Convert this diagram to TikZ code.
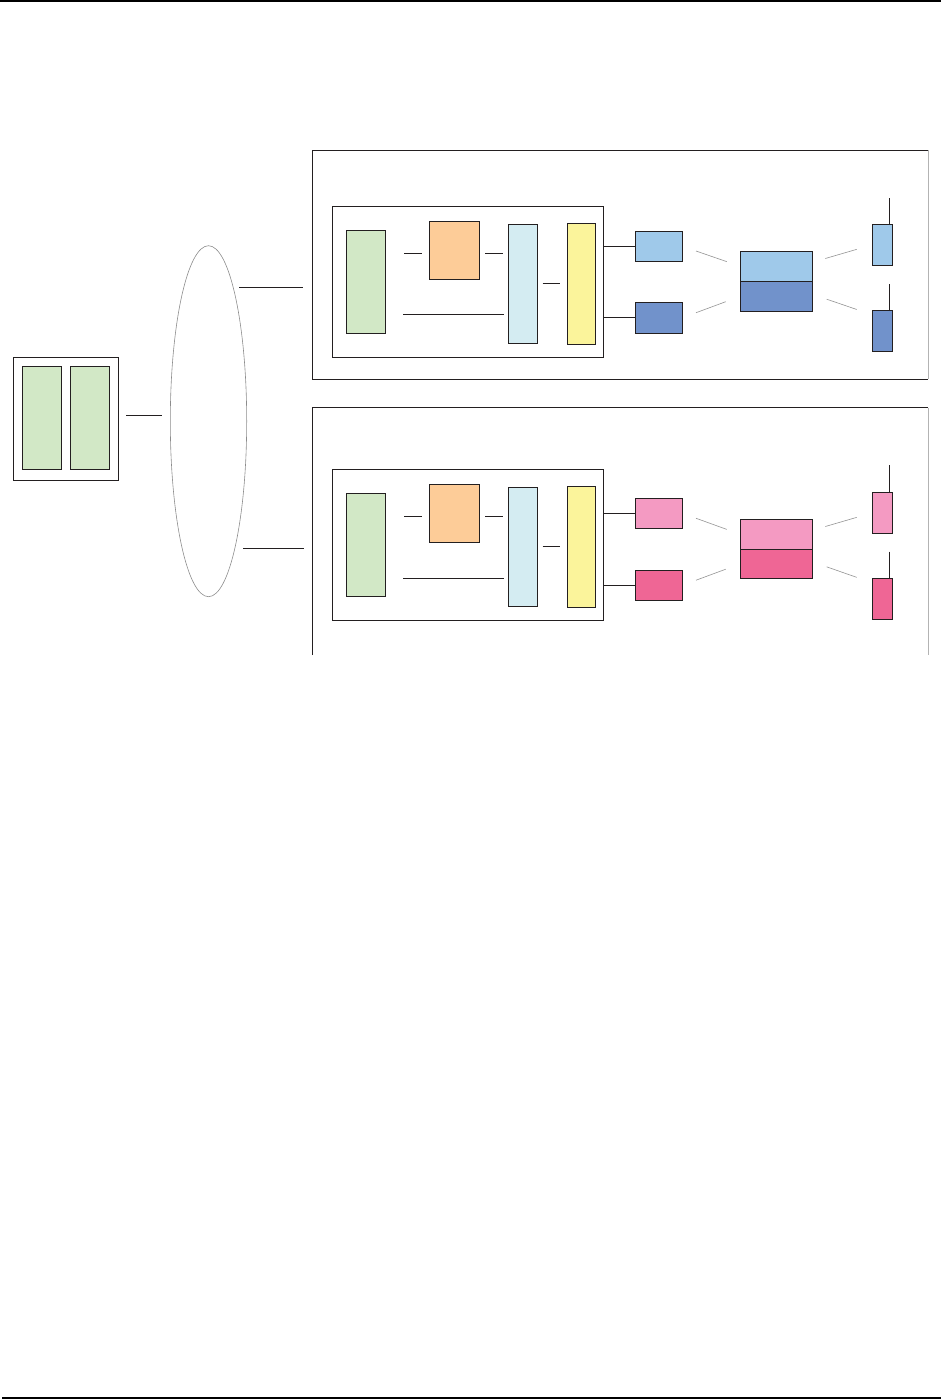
\documentclass[tikz,border=0pt]{standalone}
\usetikzlibrary{shapes.geometric,calc}
\definecolor{ink}{HTML}{231F20}
\definecolor{cgreen}{HTML}{D2E8C6}
\definecolor{corange}{HTML}{FDCC98}
\definecolor{ccyan}{HTML}{D4ECF2}
\definecolor{cyellow}{HTML}{FBF49B}
\definecolor{cblueL}{HTML}{9FC9EA}
\definecolor{cblueD}{HTML}{7192CB}
\definecolor{cpinkL}{HTML}{F49AC2}
\definecolor{cpinkD}{HTML}{EF6695}
\definecolor{cgray}{HTML}{B3B3B3}
\tikzset{
  blk/.style={draw=ink, line width=0.8pt, inner sep=0pt, outer sep=0pt, anchor=north west},
  wire/.style={draw=ink, line width=0.8pt},
  link/.style={draw=gray!85, line width=0.6pt},
  pageline/.style={draw=black, line width=2pt}
}
\begin{document}
\begin{tikzpicture}[x=1pt,y=-1pt]
\useasboundingbox (0,0) rectangle (945,1399);
% page rules
\coordinate (tl) at (0,1);
\coordinate (tr) at (941,1);
\coordinate (bl) at (2,1397.6);
\coordinate (br) at (941,1397.6);
\draw[pageline] (tl) -- (tr);
\draw[pageline] (bl) -- (br);

% left box with two green blocks
\node[blk, minimum width=105pt, minimum height=123pt] (lbx) at (13.3,357.3) {};
\node[blk, fill=cgreen, minimum width=39.4pt, minimum height=103pt] (lg1) at (22.3,366.3) {};
\node[blk, fill=cgreen, minimum width=39.4pt, minimum height=103pt] (lg2) at (70.3,366.3) {};

% ellipse
\node[draw=gray!90, line width=0.6pt, ellipse, inner sep=0pt, minimum width=76.4pt, minimum height=351pt] (ring) at (208.5,421.2) {};
\draw[wire, shorten <=7.7pt, shorten >=7.6pt] (lbx.east |- 0,415.3) -- (ring.west |- 0,415.3);

% ===== top group =====
\draw[ink, line width=0.8pt] (928.3,150.3) -- (312.3,150.3) -- (312.3,379.3) -- (928.3,379.3);
\draw[cgray, line width=0.8pt] (928.3,150.3) -- (928.3,379.3);
\node[minimum width=616pt, minimum height=229pt, inner sep=0pt, anchor=north west] (ob1) at (312.3,150.3) {};
\node[blk, minimum width=271.4pt, minimum height=151pt] (ib1) at (332.3,206.3) {};
\node[blk, fill=cgreen, minimum width=39.4pt, minimum height=103pt] (g1) at (346.3,230.3) {};
\node[blk, fill=corange, minimum width=50.4pt, minimum height=58pt] (o1) at (429.3,221.3) {};
\node[blk, fill=ccyan, minimum width=29.4pt, minimum height=119pt] (c1) at (508.3,224.3) {};
\node[blk, fill=cyellow, minimum width=28.4pt, minimum height=121pt] (y1) at (567.3,223.3) {};
\node[blk, fill=cblueL, minimum width=47pt, minimum height=30pt] (p1) at (635.3,231.3) {};
\node[blk, fill=cblueD, minimum width=47pt, minimum height=31pt] (q1) at (635.3,302.3) {};
\node[blk, fill=cblueL, minimum width=72pt, minimum height=30pt] (m1t) at (740.3,251.3) {};
\node[blk, fill=cblueD, minimum width=72pt, minimum height=30pt] (m1b) at (740.3,281.3) {};
\node[blk, fill=cblueL, minimum width=20.4pt, minimum height=41pt] (s1) at (872.3,224.3) {};
\node[blk, fill=cblueD, minimum width=20.4pt, minimum height=41pt] (s2) at (872.3,310.3) {};
\coordinate (a1) at (889.3,198.3);
\coordinate (a2) at (889.3,284.3);

\draw[wire, shorten <=18.6pt, shorten >=7.6pt] (g1.east |- 0,253.3) -- (o1.west |- 0,253.3);
\draw[wire, shorten <=5.6pt, shorten >=5.3pt] (o1.east |- 0,253.3) -- (c1.west |- 0,253.3);
\draw[wire, shorten <=17.6pt, shorten >=4.3pt] (g1.east |- 0,314.3) -- (c1.west |- 0,314.3);
\draw[wire, shorten <=5pt, shorten >=7.3pt] (c1.east |- 0,283.3) -- (y1.west |- 0,283.3);
\draw[wire] (ib1.east |- p1.west) -- (p1.west);
\draw[wire] (ib1.east |- q1.west) -- (q1.west);
\draw[wire] (a1) -- (a1 |- s1.north);
\draw[wire] (a2) -- (a2 |- s2.north);
\draw[link] ($(p1.east)!0.236!(m1t.west)$) -- ($(p1.east)!0.766!(m1t.west)$);
\draw[link] ($(q1.east)!0.236!(m1b.west)$) -- ($(q1.east)!0.748!(m1b.west)$);
\draw[link] ($([yshift=4pt]m1t.east)!0.217!(s1.west)$) -- ($([yshift=4pt]m1t.east)!0.74!(s1.west)$);
\draw[link] ($([yshift=2pt]m1b.east)!0.24!([yshift=16pt]s2.west)$) -- ($([yshift=2pt]m1b.east)!0.74!([yshift=16pt]s2.west)$);

% ===== bottom group =====
\draw[ink, line width=0.8pt] (312.3,655) -- (312.3,407.5) -- (928.3,407.5);
\draw[cgray, line width=0.8pt] (928.3,407.5) -- (928.3,655);
\node[minimum width=616pt, minimum height=247.5pt, inner sep=0pt, anchor=north west] (ob2) at (312.3,407.5) {};
\node[blk, minimum width=271.4pt, minimum height=151pt] (ib2) at (332.3,469.3) {};
\node[blk, fill=cgreen, minimum width=39.4pt, minimum height=103pt] (g2) at (346.3,493.3) {};
\node[blk, fill=corange, minimum width=50.4pt, minimum height=58pt] (o2) at (429.3,484.3) {};
\node[blk, fill=ccyan, minimum width=29.4pt, minimum height=119pt] (c2) at (508.3,487.3) {};
\node[blk, fill=cyellow, minimum width=28.4pt, minimum height=121pt] (y2) at (567.3,486.3) {};
\node[blk, fill=cpinkL, minimum width=47pt, minimum height=30pt] (p2) at (635.3,498.3) {};
\node[blk, fill=cpinkD, minimum width=47pt, minimum height=30pt] (q2) at (635.3,570.3) {};
\node[blk, fill=cpinkL, minimum width=72pt, minimum height=30pt] (m2t) at (740.3,519.3) {};
\node[blk, fill=cpinkD, minimum width=72pt, minimum height=29pt] (m2b) at (740.3,549.3) {};
\node[blk, fill=cpinkL, minimum width=20.4pt, minimum height=41pt] (s3) at (872.3,492.3) {};
\node[blk, fill=cpinkD, minimum width=20.4pt, minimum height=41pt] (s4) at (872.3,578.3) {};
\coordinate (a3) at (889.3,465);
\coordinate (a4) at (889.3,551.7);

\draw[wire, shorten <=18.6pt, shorten >=7.6pt] (g2.east |- 0,516.3) -- (o2.west |- 0,516.3);
\draw[wire, shorten <=5.6pt, shorten >=5.3pt] (o2.east |- 0,516.3) -- (c2.west |- 0,516.3);
\draw[wire, shorten <=17.6pt, shorten >=4.3pt] (g2.east |- 0,578.3) -- (c2.west |- 0,578.3);
\draw[wire, shorten <=5pt, shorten >=7.3pt] (c2.east |- 0,546.3) -- (y2.west |- 0,546.3);
\draw[wire] (ib2.east |- p2.west) -- (p2.west);
\draw[wire] (ib2.east |- q2.west) -- (q2.west);
\draw[wire] (a3) -- (a3 |- s3.north);
\draw[wire] (a4) -- (a4 |- s4.north);
\draw[link] ($(p2.east)!0.236!(m2t.west)$) -- ($(p2.east)!0.766!(m2t.west)$);
\draw[link] ($(q2.east)!0.236!(m2b.west)$) -- ($(q2.east)!0.748!(m2b.west)$);
\draw[link] ($([yshift=4pt]m2t.east)!0.217!(s3.west)$) -- ($([yshift=4pt]m2t.east)!0.74!(s3.west)$);
\draw[link] ($([yshift=2pt]m2b.east)!0.24!([yshift=16pt]s4.west)$) -- ($([yshift=2pt]m2b.east)!0.74!([yshift=16pt]s4.west)$);

% ellipse to groups
\draw[wire, shorten <=-8pt, shorten >=9pt] (ring.east |- 0,287.3) -- (ob1.west |- 0,287.3);
\draw[wire, shorten <=-4pt, shorten >=8.3pt] (ring.east |- 0,548.3) -- (ob2.west |- 0,548.3);
\end{tikzpicture}
\end{document}
